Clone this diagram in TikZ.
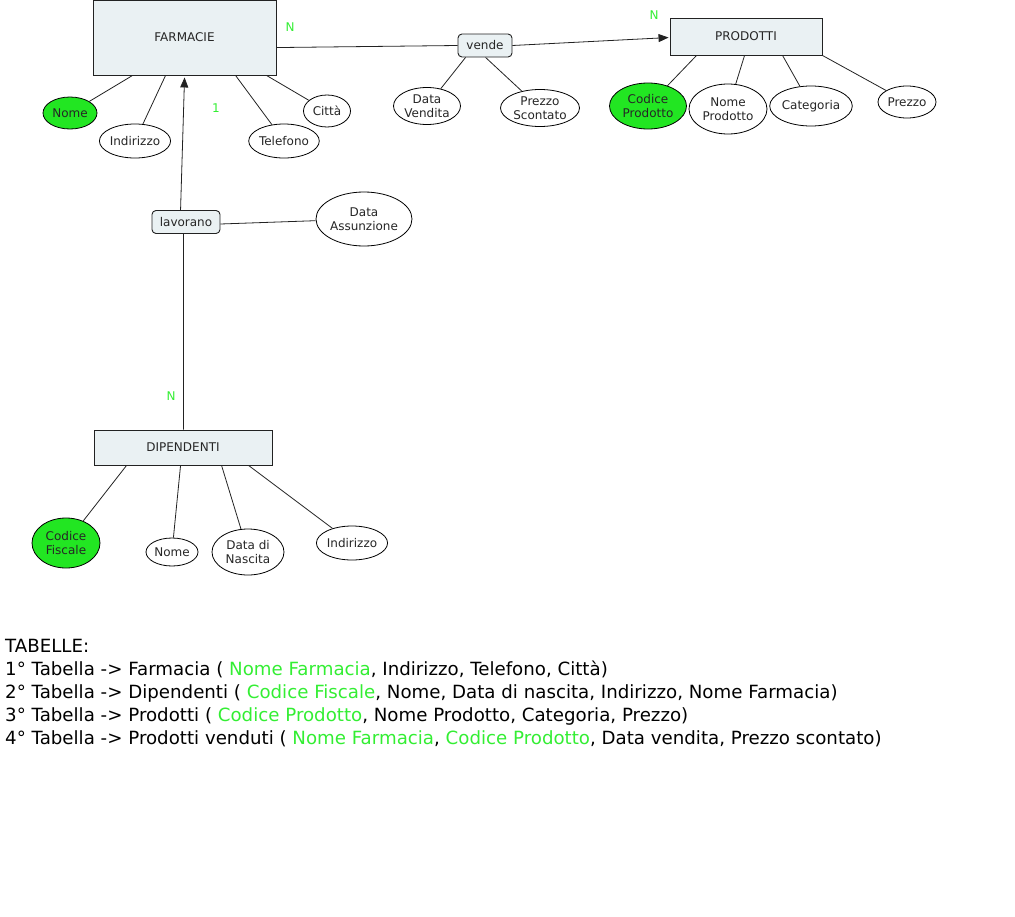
\documentclass[tikz,border=0pt]{standalone}
\usepackage{fontspec}
\setmainfont{DejaVu Sans}
\usetikzlibrary{shapes.geometric,arrows.meta,calc}
\definecolor{entfill}{HTML}{EAF1F3}
\definecolor{keyfill}{HTML}{22E622}
\definecolor{keytext}{HTML}{33EE33}
\definecolor{edge}{HTML}{222222}
\begin{document}
\begin{tikzpicture}[x=1bp,y=-1bp,
  every node/.style={font=\fontsize{12bp}{14bp}\selectfont, text=black!85},
  entity/.style={draw=edge, fill=entfill, line width=0.9bp, inner sep=0, anchor=center},
  rel/.style={draw=edge, fill=entfill, rounded corners=4bp, line width=0.9bp, inner sep=0, minimum height=23bp},
  attr/.style={ellipse, draw=black, fill=white, line width=0.8bp, inner sep=0, align=center},
  keyattr/.style={attr, fill=keyfill},
  conn/.style={draw=edge, line width=0.8bp},
  card/.style={text=keytext},
  arr/.style={conn, -{Triangle[length=10bp,width=8bp]}}
]
\useasboundingbox (0,0) rectangle (1015,917);

% entities
\node[entity, minimum width=183bp, minimum height=75bp] (farm) at (184.5,37.5) {FARMACIE};
\node[entity, minimum width=152bp, minimum height=37bp] (prod) at (746,36.5) {PRODOTTI};
\node[entity, minimum width=178bp, minimum height=35bp] (dip) at (183,447.5) {DIPENDENTI};

% relationships
\node[rel, minimum width=54bp] (vende) at (485,45.5) {vende};
\node[rel, minimum width=68bp] (lav) at (186,222) {lavorano};

% FARMACIE attributes
\node[keyattr, minimum width=54bp, minimum height=32bp] (fnome) at (70,113) {Nome};
\node[attr, minimum width=70bp, minimum height=34bp] (find) at (135,141) {Indirizzo};
\node[attr, minimum width=70bp, minimum height=34bp] (ftel) at (284,141) {Telefono};
\node[attr, minimum width=47bp, minimum height=32bp] (fcit) at (327,111) {Città};

% vende attributes
\node[attr, minimum width=67bp, minimum height=37bp] (vdata) at (427,106) {Data\\Vendita};
\node[attr, minimum width=79bp, minimum height=37bp] (vprezzo) at (540,108) {Prezzo\\Scontato};

% PRODOTTI attributes
\node[keyattr, minimum width=77bp, minimum height=46bp] (pcod) at (648,106) {Codice\\Prodotto};
\node[attr, minimum width=78bp, minimum height=50bp] (pnome) at (728,109) {Nome\\Prodotto};
\node[attr, minimum width=77bp, minimum height=40bp] (pcat) at (811,106) {Categoria};
\node[attr, minimum width=58bp, minimum height=32bp] (pprezzo) at (907,102) {Prezzo};

% lavorano attribute
\node[attr, minimum width=92bp, minimum height=54bp] (ldata) at (364,219) {Data\\Assunzione};

% DIPENDENTI attributes
\node[keyattr, minimum width=68bp, minimum height=50bp] (dcod) at (66,543) {Codice\\Fiscale};
\node[attr, minimum width=52bp, minimum height=28bp] (dnome) at (172,552) {Nome};
\node[attr, minimum width=72bp, minimum height=46bp] (ddata) at (248,552) {Data di\\Nascita};
\node[attr, minimum width=68bp, minimum height=34bp] (dind) at (352,543) {Indirizzo};

% cardinalities
\node[card] (c1) at (290,27) {N};
\node[card] (c2) at (654,15) {N};
\node[card] (c3) at (216,108) {1};
\node[card] (c4) at (171,396) {N};

% connectors
\draw[conn] ($(farm.north east)+(0,48)$) -- (vende.west);
\draw[arr] (vende.east) -- ($(prod.north west)+(-1,20)$);
\draw[arr] ($(lav.north west)+(29,0)$) -- ($(farm.south west)+(92,2)$);
\draw[conn] ($(lav.south west)+(32,0)$) -- ($(dip.north west)+(90,0)$);
\draw[conn] ($(lav.east)+(0,2)$) -- (ldata);

\draw[conn] ($(farm.south west)+(40,0)$) -- (fnome);
\draw[conn] ($(farm.south west)+(73,0)$) -- (find);
\draw[conn] ($(farm.south west)+(143,0)$) -- (ftel);
\draw[conn] ($(farm.south west)+(174,0)$) -- (fcit);

\draw[conn] ($(vende.south west)+(8,0)$) -- (vdata);
\draw[conn] ($(vende.south west)+(28,0)$) -- (vprezzo);

\draw[conn] ($(prod.south west)+(27,0)$) -- (pcod);
\draw[conn] ($(prod.south west)+(75,0)$) -- (pnome);
\draw[conn] ($(prod.south west)+(113,0)$) -- (pcat);
\draw[conn] (prod.south east) -- (pprezzo);

\draw[conn] ($(dip.south west)+(33,0)$) -- (dcod);
\draw[conn] ($(dip.south west)+(87,0)$) -- (dnome);
\draw[conn] ($(dip.south west)+(128,0)$) -- (ddata);
\draw[conn] ($(dip.south west)+(155,0)$) -- (dind);

% tables text
\begin{scope}[every node/.style={font=\fontsize{18.2bp}{23bp}\selectfont, text=black, anchor=base west, inner sep=0}]
\node (t0) at (5,652) {TABELLE:};
\node (t1) at (5,675) {1° Tabella -> Farmacia ( \textcolor{keytext}{Nome Farmacia}, Indirizzo, Telefono, Città)};
\node (t2) at (5,698) {2° Tabella -> Dipendenti ( \textcolor{keytext}{Codice Fiscale}, Nome, Data di nascita, Indirizzo, Nome Farmacia)};
\node (t3) at (5,721) {3° Tabella -> Prodotti ( \textcolor{keytext}{Codice Prodotto}, Nome Prodotto, Categoria, Prezzo)};
\node (t4) at (5,744) {4° Tabella -> Prodotti venduti ( \textcolor{keytext}{Nome Farmacia}, \textcolor{keytext}{Codice Prodotto}, Data vendita, Prezzo scontato)};
\end{scope}
\end{tikzpicture}
\end{document}
